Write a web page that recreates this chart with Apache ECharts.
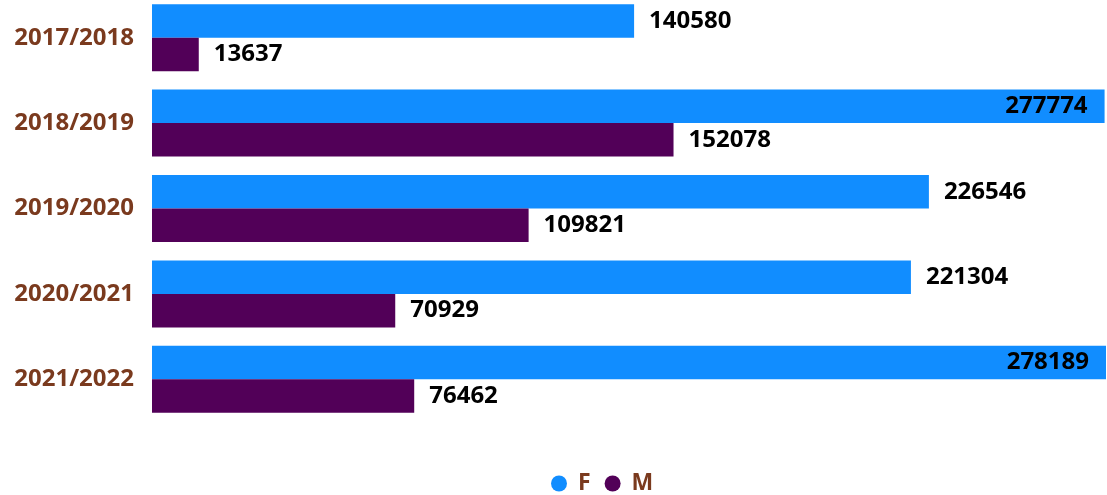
<!DOCTYPE html>
<html>
<head>
<meta charset="utf-8">
<script src="https://cdn.jsdelivr.net/npm/echarts@6/dist/echarts.min.js"></script>
<style>
  html, body { margin: 0; padding: 0; background: #fff; }
  #chart { width: 1107px; height: 495px; }
</style>
</head>
<body>
<div id="chart"></div>
<script>
// years, top to bottom
var years = ['2017/2018', '2018/2019', '2019/2020', '2020/2021', '2021/2022'];
var valuesF = [140580, 277774, 226546, 221304, 278189];
var valuesM = [13637, 152078, 109821, 70929, 76462];

var FONT = '"Open Sans", "Noto Sans", sans-serif';

// big bars get the label inside
function toItems(arr) {
    var max = Math.max.apply(null, valuesF.concat(valuesM));
    return arr.map(function (v) {
        var item = {value: v};
        if (v > max * 0.9) {
            item.label = {position: 'insideRight', distance: 17};
        }
        return item;
    });
}

var labelStyle = {
    show: true,
    position: 'right',
    distance: 15,
    color: '#000',
    fontSize: 24,
    fontWeight: 'bold',
    fontFamily: FONT
};

var chart = echarts.init(document.getElementById('chart'));
chart.setOption({
    animation: false,
    grid: {left: 152, right: 1, top: -5, height: 427, containLabel: false, outerBoundsMode: 'none'},
    legend: {
        top: 467,
        left: 546,
        icon: 'circle',
        itemWidth: 16,
        itemHeight: 16,
        itemGap: 14,
        textStyle: {color: '#7A3A1E', fontSize: 23, fontWeight: 'bold', fontFamily: FONT, padding: [0, 0, 0, 6]},
        data: ['F', 'M']
    },
    xAxis: {
        type: 'value',
        min: 0,
        max: 'dataMax',
        show: false
    },
    yAxis: {
        type: 'category',
        inverse: true,
        data: years,
        axisLine: {show: false},
        axisTick: {show: false},
        axisLabel: {margin: 18, color: '#7A3A1E', fontSize: 24, fontWeight: 'bold', fontFamily: FONT}
    },
    series: [
        {
            name: 'F', type: 'bar', data: toItems(valuesF),
            itemStyle: {color: '#118DFF'},
            barGap: '0%', barCategoryGap: '21.6%',
            label: labelStyle
        },
        {
            name: 'M', type: 'bar', data: toItems(valuesM),
            itemStyle: {color: '#520058'},
            label: labelStyle
        }
    ]
});
</script>
</body>
</html>
